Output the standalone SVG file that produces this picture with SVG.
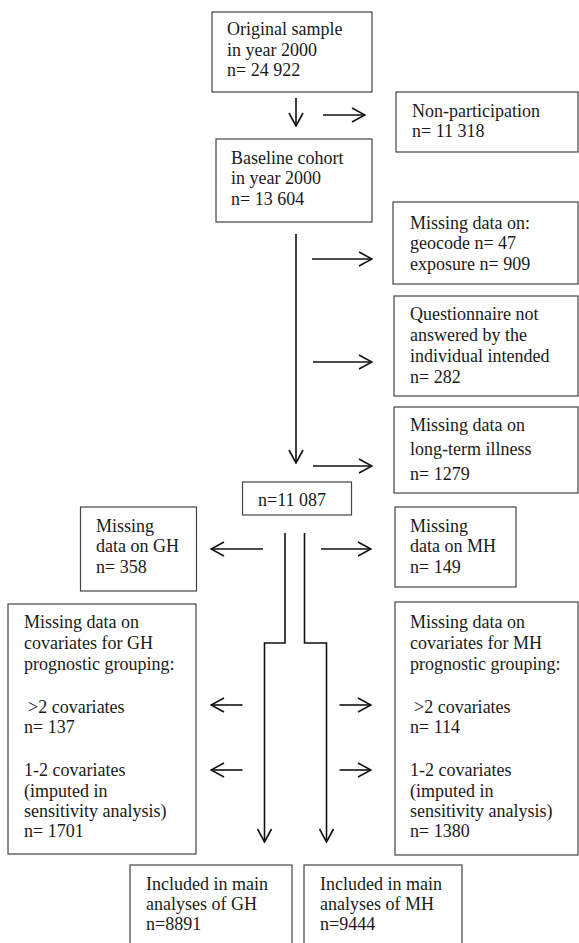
<svg xmlns="http://www.w3.org/2000/svg" width="579" height="943" viewBox="0 0 579 943">
<style>
.box{fill:#fff;stroke:#444;stroke-width:1.2}
text{font-family:"Liberation Serif","Times New Roman",serif;font-size:18px;fill:#1a1a1a}
.c{fill:none;stroke:#111;stroke-width:1.6}
</style>
<defs>
<marker id="ah" viewBox="0 0 16 16" refX="15" refY="8" markerWidth="16" markerHeight="16" markerUnits="userSpaceOnUse" orient="auto">
<path d="M2,1 L15,8 L2,15" fill="none" stroke="#111" stroke-width="1.6"/>
</marker>
</defs>
<rect width="579" height="943" fill="#fff"/>
<g id="n1"><rect class="box" x="212" y="12" width="160" height="80"/>
<text x="227" y="35">Original sample</text><text x="227" y="56">in year 2000</text><text x="227" y="76">n= 24 922</text></g>
<g id="n2"><rect class="box" x="396" y="92" width="182" height="60"/>
<text x="412" y="117">Non-participation</text><text x="412" y="137">n= 11 318</text></g>
<g id="n3"><rect class="box" x="216" y="139" width="156" height="83"/>
<text x="231" y="164">Baseline cohort</text><text x="231" y="184">in year 2000</text><text x="231" y="205">n= 13 604</text></g>
<g id="n4"><rect class="box" x="393" y="202" width="185" height="82"/>
<text x="410" y="229">Missing data on:</text><text x="410" y="249">geocode n= 47</text><text x="410" y="270">exposure n= 909</text></g>
<g id="n5"><rect class="box" x="394" y="296" width="184" height="100"/>
<text x="410" y="320">Questionnaire not</text><text x="410" y="341">answered by the</text><text x="410" y="362">individual intended</text><text x="410" y="383">n= 282</text></g>
<g id="n6"><rect class="box" x="394" y="407" width="184" height="86"/>
<text x="410" y="431">Missing data on</text><text x="410" y="455">long-term illness</text><text x="410" y="480">n= 1279</text></g>
<g id="n7"><rect class="box" x="242.5" y="482" width="109" height="33"/>
<text x="258" y="506">n=11 087</text></g>
<g id="n8"><rect class="box" x="80.5" y="507" width="116" height="84"/>
<text x="96" y="532">Missing</text><text x="96" y="552">data on GH</text><text x="96" y="573">n= 358</text></g>
<g id="n9"><rect class="box" x="395" y="507" width="121" height="80"/>
<text x="410" y="532">Missing</text><text x="410" y="552">data on MH</text><text x="410" y="573">n= 149</text></g>
<g id="n10"><rect class="box" x="8" y="604" width="188" height="250"/>
<text x="24" y="628">Missing data on</text><text x="24" y="649">covariates for GH</text><text x="24" y="670">prognostic grouping:</text>
<text x="28" y="713">&gt;2 covariates</text><text x="24" y="733">n= 137</text>
<text x="24" y="776">1-2 covariates</text><text x="24" y="797">(imputed in</text><text x="24" y="817">sensitivity analysis)</text><text x="24" y="837">n= 1701</text></g>
<g id="n11"><rect class="box" x="395" y="602" width="183" height="253"/>
<text x="410" y="628">Missing data on</text><text x="410" y="649">covariates for MH</text><text x="410" y="670">prognostic grouping:</text>
<text x="414" y="713">&gt;2 covariates</text><text x="410" y="733">n= 114</text>
<text x="410" y="776">1-2 covariates</text><text x="410" y="797">(imputed in</text><text x="410" y="817">sensitivity analysis)</text><text x="410" y="837">n= 1380</text></g>
<g id="n12"><rect class="box" x="130" y="865" width="162" height="82"/>
<text x="146" y="890">Included in main</text><text x="146" y="910">analyses of GH</text><text x="146" y="930">n=8891</text></g>
<g id="n13"><rect class="box" x="304" y="865" width="158" height="82"/>
<text x="320" y="890">Included in main</text><text x="320" y="910">analyses of MH</text><text x="320" y="930">n=9444</text></g>
<g id="connectors" class="c">
<path class="c" d="M296,98 V126" marker-end="url(#ah)"/>
<path class="c" d="M323,115 H365" marker-end="url(#ah)"/>
<path class="c" d="M296,234 V463" marker-end="url(#ah)"/>
<path class="c" d="M312,259 H372" marker-end="url(#ah)"/>
<path class="c" d="M313,362 H372" marker-end="url(#ah)"/>
<path class="c" d="M313,466 H372" marker-end="url(#ah)"/>
<path class="c" d="M285,533 V643 H264.5 V842" marker-end="url(#ah)"/>
<path class="c" d="M304.5,533 V643 H326.5 V842" marker-end="url(#ah)"/>
<path class="c" d="M263,549 H211" marker-end="url(#ah)"/>
<path class="c" d="M321,549 H371" marker-end="url(#ah)"/>
<path class="c" d="M242.5,705 H211" marker-end="url(#ah)"/>
<path class="c" d="M242.5,770 H211" marker-end="url(#ah)"/>
<path class="c" d="M339.5,705 H371" marker-end="url(#ah)"/>
<path class="c" d="M339.5,770 H371" marker-end="url(#ah)"/>
</g>
</svg>
